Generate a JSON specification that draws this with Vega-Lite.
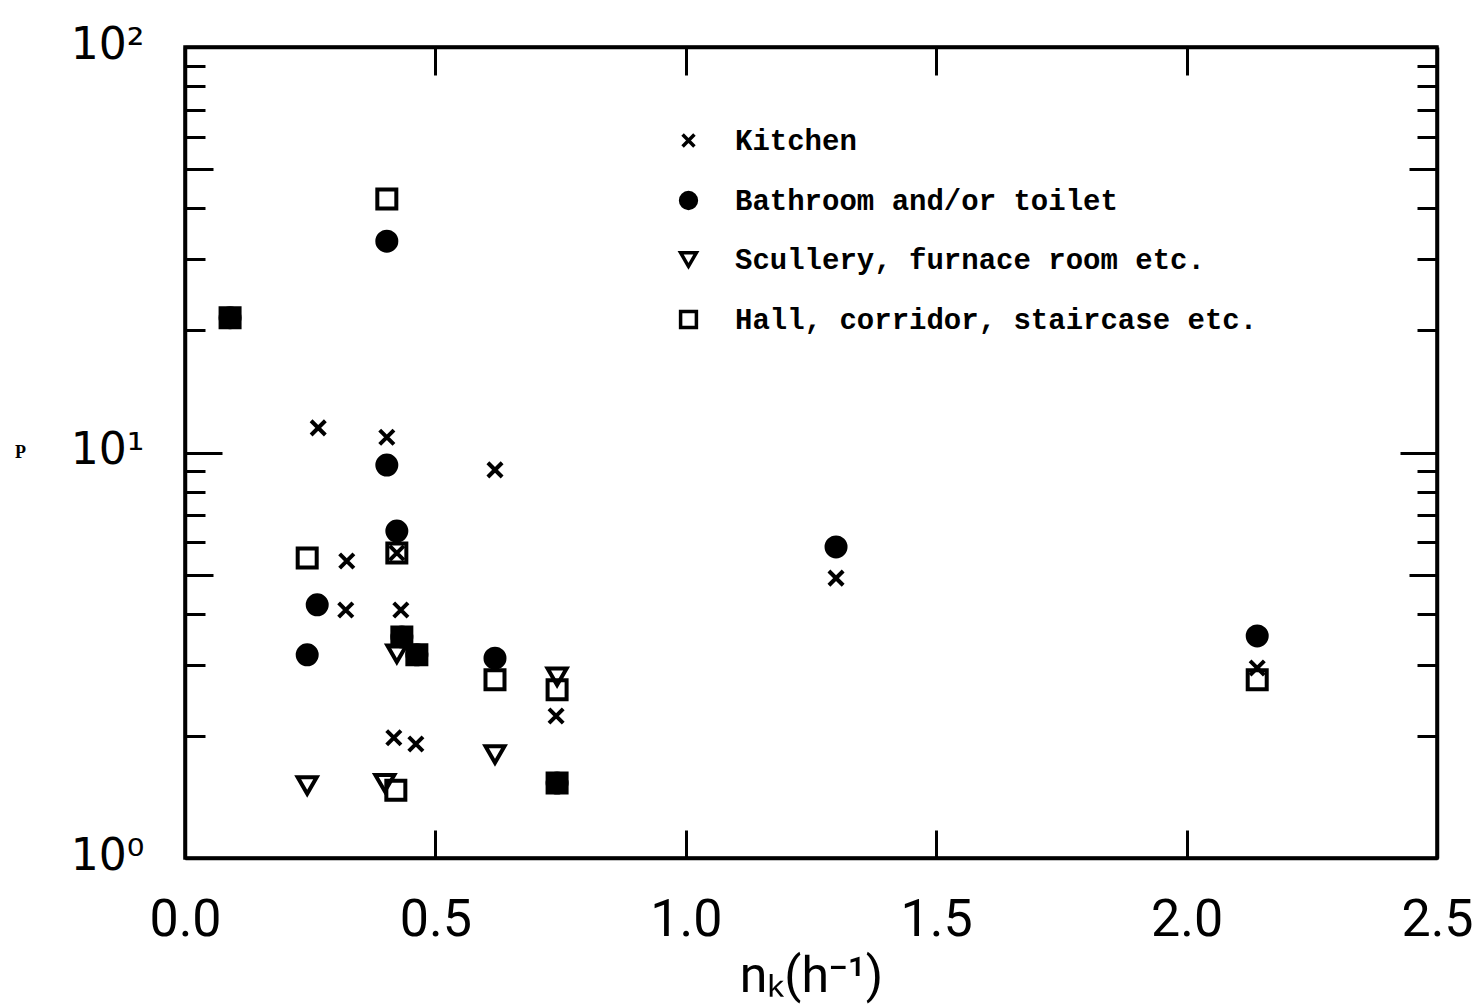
{
  "$schema": "https://vega.github.io/schema/vega-lite/v6.json",
  "width": 1252,
  "height": 811,
  "autosize": "none",
  "padding": {"left": 185, "top": 47, "right": 37, "bottom": 149},
  "background": "white",
  "config": {
    "view": {"stroke": "black", "strokeWidth": 3.5},
    "axis": {"grid": false, "domainColor": "black", "domainWidth": 3.5, "tickColor": "black", "tickWidth": 3, "labelColor": "black", "titleColor": "black", "labelFlush": false},
    "legend": {
      "orient": "none", "legendX": 489, "legendY": 79, "title": null, "padding": 0,
      "symbolSize": 250, "symbolStrokeWidth": 3.5, "symbolStrokeColor": "black",
      "labelFont": "Liberation Mono", "labelFontSize": 29, "labelFontWeight": "bold", "labelColor": "black",
      "labelOffset": 32, "rowPadding": 29, "labelLimit": 800
    }
  },
  "data": {
    "values": [
      {"x": 0.266, "p": 11.5, "room": "Kitchen"},
      {"x": 0.403, "p": 10.9, "room": "Kitchen"},
      {"x": 0.619, "p": 9.06, "room": "Kitchen"},
      {"x": 0.323, "p": 5.40, "room": "Kitchen"},
      {"x": 0.321, "p": 4.09, "room": "Kitchen"},
      {"x": 0.431, "p": 4.09, "room": "Kitchen"},
      {"x": 0.417, "p": 1.98, "room": "Kitchen"},
      {"x": 0.461, "p": 1.91, "room": "Kitchen"},
      {"x": 0.741, "p": 2.24, "room": "Kitchen"},
      {"x": 1.300, "p": 4.90, "room": "Kitchen"},
      {"x": 2.141, "p": 2.94, "room": "Kitchen"},
      {"x": 0.423, "p": 5.65, "room": "Kitchen"},
      {"x": 0.403, "p": 33.2, "room": "Bathroom and/or toilet"},
      {"x": 0.403, "p": 9.31, "room": "Bathroom and/or toilet"},
      {"x": 0.423, "p": 6.40, "room": "Bathroom and/or toilet"},
      {"x": 0.264, "p": 4.21, "room": "Bathroom and/or toilet"},
      {"x": 0.244, "p": 3.17, "room": "Bathroom and/or toilet"},
      {"x": 0.619, "p": 3.11, "room": "Bathroom and/or toilet"},
      {"x": 1.300, "p": 5.85, "room": "Bathroom and/or toilet"},
      {"x": 2.141, "p": 3.53, "room": "Bathroom and/or toilet"},
      {"x": 0.090, "p": 21.5, "room": "Bathroom and/or toilet"},
      {"x": 0.433, "p": 3.51, "room": "Bathroom and/or toilet"},
      {"x": 0.463, "p": 3.17, "room": "Bathroom and/or toilet"},
      {"x": 0.743, "p": 1.53, "room": "Bathroom and/or toilet"},
      {"x": 0.244, "p": 1.51, "room": "Scullery, furnace room etc."},
      {"x": 0.399, "p": 1.53, "room": "Scullery, furnace room etc."},
      {"x": 0.423, "p": 3.19, "room": "Scullery, furnace room etc."},
      {"x": 0.619, "p": 1.80, "room": "Scullery, furnace room etc."},
      {"x": 0.743, "p": 2.80, "room": "Scullery, furnace room etc."},
      {"x": 0.403, "p": 42.2, "room": "Hall, corridor, staircase etc."},
      {"x": 0.244, "p": 5.49, "room": "Hall, corridor, staircase etc."},
      {"x": 0.423, "p": 5.65, "room": "Hall, corridor, staircase etc."},
      {"x": 0.421, "p": 1.47, "room": "Hall, corridor, staircase etc."},
      {"x": 0.619, "p": 2.75, "room": "Hall, corridor, staircase etc."},
      {"x": 0.743, "p": 2.60, "room": "Hall, corridor, staircase etc."},
      {"x": 2.141, "p": 2.75, "room": "Hall, corridor, staircase etc."},
      {"x": 0.090, "p": 21.5, "room": "Hall, corridor, staircase etc."},
      {"x": 0.433, "p": 3.51, "room": "Hall, corridor, staircase etc."},
      {"x": 0.463, "p": 3.17, "room": "Hall, corridor, staircase etc."},
      {"x": 0.743, "p": 1.53, "room": "Hall, corridor, staircase etc."}
    ]
  },
  "layer": [
    {
      "mark": {"type": "point", "strokeWidth": 4, "size": 361, "opacity": 1},
      "encoding": {
        "x": {
          "field": "x", "type": "quantitative",
          "scale": {"domain": [0, 2.5], "nice": false, "zero": false},
          "axis": {
            "orient": "bottom", "values": [0, 0.5, 1, 1.5, 2, 2.5], "format": ".1f",
            "labelFont": "Roboto", "labelFontSize": 52, "labelBaseline": "top", "labelPadding": 64,
            "tickSize": -28,
            "title": "nₖ(h⁻¹)", "titleFont": "Roboto", "titleFontSize": 50, "titleFontWeight": "normal",
            "titleBaseline": "alphabetic", "titleY": 133
          }
        },
        "y": {
          "field": "p", "type": "quantitative",
          "scale": {"type": "log", "domain": [1, 100], "nice": false},
          "axis": {
            "orient": "left",
            "values": [1, 2, 3, 4, 5, 6, 7, 8, 9, 10, 20, 30, 40, 50, 60, 70, 80, 90, 100],
            "labelExpr": "datum.value==1?'10⁰':datum.value==10?'10¹':datum.value==100?'10²':''",
            "labelFont": "DejaVu Sans", "labelFontSize": 44, "labelBaseline": "alphabetic", "labelOffset": 11,
            "labelPadding": 78,
            "tickSize": {"condition": [{"test": "datum.value==1||datum.value==10||datum.value==100", "value": -37}, {"test": "datum.value==5||datum.value==50", "value": -28}], "value": -20},
            "title": "P", "titleAngle": 0, "titleAlign": "center", "titleBaseline": "middle",
            "titleX": -165, "titleY": 405, "titleFont": "Liberation Serif", "titleFontSize": 18, "titleFontWeight": "bold"
          }
        },
        "shape": {
          "field": "room", "type": "nominal",
          "scale": {
            "domain": ["Kitchen", "Bathroom and/or toilet", "Scullery, furnace room etc.", "Hall, corridor, staircase etc."],
            "range": ["M-0.75,-0.75L0.75,0.75M-0.75,0.75L0.75,-0.75", "circle", "triangle-down", "square"]
          }
        },
        "fill": {
          "field": "room", "type": "nominal",
          "scale": {
            "domain": ["Kitchen", "Bathroom and/or toilet", "Scullery, furnace room etc.", "Hall, corridor, staircase etc."],
            "range": ["transparent", "black", "transparent", "transparent"]
          }
        },
        "stroke": {
          "field": "room", "type": "nominal",
          "scale": {
            "domain": ["Kitchen", "Bathroom and/or toilet", "Scullery, furnace room etc.", "Hall, corridor, staircase etc."],
            "range": ["black", "black", "black", "black"]
          }
        }
      }
    },
    {
      "mark": {"type": "point", "opacity": 0},
      "encoding": {
        "x": {
          "field": "x", "type": "quantitative",
          "axis": {"orient": "top", "values": [0.5, 1, 1.5, 2], "labels": false, "title": null, "tickSize": -28}
        },
        "y": {
          "field": "p", "type": "quantitative",
          "axis": {
            "orient": "right", "labels": false, "title": null,
            "values": [1, 2, 3, 4, 5, 6, 7, 8, 9, 10, 20, 30, 40, 50, 60, 70, 80, 90, 100],
            "tickSize": {"condition": [{"test": "datum.value==1||datum.value==10||datum.value==100", "value": -37}, {"test": "datum.value==5||datum.value==50", "value": -28}], "value": -20}
          }
        }
      }
    }
  ]
}
